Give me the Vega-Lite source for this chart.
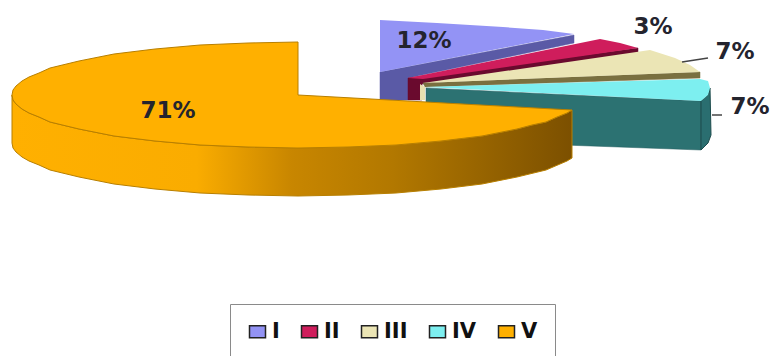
{
  "$schema": "https://vega.github.io/schema/vega-lite/v6.json",
  "width": 771,
  "height": 356,
  "padding": 0,
  "autosize": {"type": "none"},
  "background": "#ffffff",
  "config": {"view": {"stroke": null}},
  "datasets": {
    "slices": [
      {"slice": "I", "share": 0.12, "x": 126, "y": 54},
      {"slice": "II", "share": 0.03, "x": 355, "y": 68},
      {"slice": "III", "share": 0.07, "x": 437, "y": 43},
      {"slice": "IV", "share": 0.07, "x": 452, "y": -12},
      {"slice": "V", "share": 0.71, "x": -130, "y": -16}
    ],
    "outline": [
      {"part": "Iwall", "i": 1, "x": 82, "y": 23},
      {"part": "Iwall", "i": 2, "x": 276, "y": 60},
      {"part": "Iwall", "i": 3, "x": 276, "y": 52},
      {"part": "Iwall", "i": 4, "x": 110, "y": 17},
      {"part": "Iwall", "i": 5, "x": 110, "y": -5},
      {"part": "Iwall", "i": 6, "x": 82, "y": -5},

      {"part": "Itop", "slice": "I", "i": 1, "x": 82, "y": 75},
      {"part": "Itop", "slice": "I", "i": 2, "x": 139, "y": 72},
      {"part": "Itop", "slice": "I", "i": 3, "x": 205, "y": 68},
      {"part": "Itop", "slice": "I", "i": 4, "x": 245, "y": 65},
      {"part": "Itop", "slice": "I", "i": 5, "x": 276, "y": 61},
      {"part": "Itop", "slice": "I", "i": 6, "x": 82, "y": 23},

      {"part": "IIwall", "i": 1, "x": 110, "y": 17},
      {"part": "IIwall", "i": 2, "x": 340, "y": 47},
      {"part": "IIwall", "i": 3, "x": 340, "y": 42},
      {"part": "IIwall", "i": 4, "x": 124, "y": 11},
      {"part": "IIwall", "i": 5, "x": 124, "y": -5},
      {"part": "IIwall", "i": 6, "x": 110, "y": -5},

      {"part": "IItop", "slice": "II", "i": 1, "x": 110, "y": 17},
      {"part": "IItop", "slice": "II", "i": 2, "x": 302, "y": 56},
      {"part": "IItop", "slice": "II", "i": 3, "x": 322, "y": 52},
      {"part": "IItop", "slice": "II", "i": 4, "x": 340, "y": 47},
      {"part": "IItop", "slice": "II", "i": 5, "x": 125, "y": 16},

      {"part": "IIIwall", "i": 1, "x": 125, "y": 12},
      {"part": "IIIwall", "i": 2, "x": 402, "y": 23},
      {"part": "IIIwall", "i": 3, "x": 402, "y": 17},
      {"part": "IIIwall", "i": 4, "x": 127, "y": 8},

      {"part": "IIIstrip", "i": 1, "x": 122, "y": 11},
      {"part": "IIIstrip", "i": 2, "x": 127, "y": 8},
      {"part": "IIIstrip", "i": 3, "x": 127, "y": -5},
      {"part": "IIIstrip", "i": 4, "x": 122, "y": -5},

      {"part": "IIItop", "slice": "III", "i": 1, "x": 125, "y": 12},
      {"part": "IIItop", "slice": "III", "i": 2, "x": 352, "y": 45},
      {"part": "IIItop", "slice": "III", "i": 3, "x": 377, "y": 37},
      {"part": "IIItop", "slice": "III", "i": 4, "x": 392, "y": 30},
      {"part": "IIItop", "slice": "III", "i": 5, "x": 402, "y": 23},

      {"part": "IVwall", "i": 1, "x": 128, "y": 7},
      {"part": "IVwall", "i": 2, "x": 403, "y": -6},
      {"part": "IVwall", "i": 3, "x": 403, "y": -55},
      {"part": "IVwall", "i": 4, "x": 128, "y": -45},

      {"part": "IVside", "i": 1, "x": 403, "y": -6},
      {"part": "IVside", "i": 2, "x": 410, "y": 0},
      {"part": "IVside", "i": 3, "x": 412, "y": 7},
      {"part": "IVside", "i": 4, "x": 413, "y": -40},
      {"part": "IVside", "i": 5, "x": 410, "y": -48},
      {"part": "IVside", "i": 6, "x": 403, "y": -55},

      {"part": "IVtop", "slice": "IV", "i": 1, "x": 127, "y": 8},
      {"part": "IVtop", "slice": "IV", "i": 2, "x": 402, "y": 16},
      {"part": "IVtop", "slice": "IV", "i": 3, "x": 410, "y": 14},
      {"part": "IVtop", "slice": "IV", "i": 4, "x": 412, "y": 7},
      {"part": "IVtop", "slice": "IV", "i": 5, "x": 410, "y": 0},
      {"part": "IVtop", "slice": "IV", "i": 6, "x": 403, "y": -6},

      {"part": "Vwall", "i": 1, "x": 274, "y": -15},
      {"part": "Vwall", "i": 2, "x": 269, "y": -18},
      {"part": "Vwall", "i": 2.5, "x": 259, "y": -22},
      {"part": "Vwall", "i": 3, "x": 248, "y": -27},
      {"part": "Vwall", "i": 3.5, "x": 234, "y": -30},
      {"part": "Vwall", "i": 4, "x": 219, "y": -34},
      {"part": "Vwall", "i": 5, "x": 184, "y": -41},
      {"part": "Vwall", "i": 6, "x": 143, "y": -46},
      {"part": "Vwall", "i": 7, "x": 98, "y": -50},
      {"part": "Vwall", "i": 8, "x": 50, "y": -52},
      {"part": "Vwall", "i": 9, "x": 0, "y": -53},
      {"part": "Vwall", "i": 10, "x": -50, "y": -52},
      {"part": "Vwall", "i": 11, "x": -98, "y": -50},
      {"part": "Vwall", "i": 12, "x": -143, "y": -46},
      {"part": "Vwall", "i": 13, "x": -184, "y": -41},
      {"part": "Vwall", "i": 14, "x": -219, "y": -34},
      {"part": "Vwall", "i": 15, "x": -248, "y": -27},
      {"part": "Vwall", "i": 15.5, "x": -259, "y": -22},
      {"part": "Vwall", "i": 16, "x": -269, "y": -18},
      {"part": "Vwall", "i": 16.5, "x": -276, "y": -14},
      {"part": "Vwall", "i": 17, "x": -282, "y": -9},
      {"part": "Vwall", "i": 17.5, "x": -285, "y": -5},
      {"part": "Vwall", "i": 18, "x": -286, "y": 0},
      {"part": "Vwall", "i": 19, "x": -286, "y": -48},
      {"part": "Vwall", "i": 19.5, "x": -285, "y": -53},
      {"part": "Vwall", "i": 20, "x": -282, "y": -57},
      {"part": "Vwall", "i": 20.5, "x": -276, "y": -62},
      {"part": "Vwall", "i": 21, "x": -269, "y": -66},
      {"part": "Vwall", "i": 21.5, "x": -259, "y": -70},
      {"part": "Vwall", "i": 22, "x": -248, "y": -75},
      {"part": "Vwall", "i": 23, "x": -219, "y": -82},
      {"part": "Vwall", "i": 24, "x": -184, "y": -89},
      {"part": "Vwall", "i": 25, "x": -143, "y": -94},
      {"part": "Vwall", "i": 26, "x": -98, "y": -98},
      {"part": "Vwall", "i": 27, "x": -50, "y": -100},
      {"part": "Vwall", "i": 28, "x": 0, "y": -101},
      {"part": "Vwall", "i": 29, "x": 50, "y": -100},
      {"part": "Vwall", "i": 30, "x": 98, "y": -98},
      {"part": "Vwall", "i": 31, "x": 143, "y": -94},
      {"part": "Vwall", "i": 32, "x": 184, "y": -89},
      {"part": "Vwall", "i": 33, "x": 219, "y": -82},
      {"part": "Vwall", "i": 34, "x": 248, "y": -75},
      {"part": "Vwall", "i": 35, "x": 269, "y": -66},
      {"part": "Vwall", "i": 36, "x": 274, "y": -63},

      {"part": "Vtop", "slice": "V", "i": 1, "x": 0, "y": 0},
      {"part": "Vtop", "slice": "V", "i": 2, "x": 274, "y": -15},
      {"part": "Vtop", "slice": "V", "i": 3, "x": 269, "y": -18},
      {"part": "Vtop", "slice": "V", "i": 3.5, "x": 259, "y": -22},
      {"part": "Vtop", "slice": "V", "i": 4, "x": 248, "y": -27},
      {"part": "Vtop", "slice": "V", "i": 4.5, "x": 234, "y": -30},
      {"part": "Vtop", "slice": "V", "i": 5, "x": 219, "y": -34},
      {"part": "Vtop", "slice": "V", "i": 6, "x": 184, "y": -41},
      {"part": "Vtop", "slice": "V", "i": 7, "x": 143, "y": -46},
      {"part": "Vtop", "slice": "V", "i": 8, "x": 98, "y": -50},
      {"part": "Vtop", "slice": "V", "i": 9, "x": 50, "y": -52},
      {"part": "Vtop", "slice": "V", "i": 10, "x": 0, "y": -53},
      {"part": "Vtop", "slice": "V", "i": 11, "x": -50, "y": -52},
      {"part": "Vtop", "slice": "V", "i": 12, "x": -98, "y": -50},
      {"part": "Vtop", "slice": "V", "i": 13, "x": -143, "y": -46},
      {"part": "Vtop", "slice": "V", "i": 14, "x": -184, "y": -41},
      {"part": "Vtop", "slice": "V", "i": 15, "x": -219, "y": -34},
      {"part": "Vtop", "slice": "V", "i": 16, "x": -248, "y": -27},
      {"part": "Vtop", "slice": "V", "i": 16.5, "x": -259, "y": -22},
      {"part": "Vtop", "slice": "V", "i": 17, "x": -269, "y": -18},
      {"part": "Vtop", "slice": "V", "i": 17.5, "x": -276, "y": -14},
      {"part": "Vtop", "slice": "V", "i": 18, "x": -282, "y": -9},
      {"part": "Vtop", "slice": "V", "i": 18.5, "x": -285, "y": -5},
      {"part": "Vtop", "slice": "V", "i": 19, "x": -286, "y": 0},
      {"part": "Vtop", "slice": "V", "i": 19.5, "x": -285, "y": 5},
      {"part": "Vtop", "slice": "V", "i": 20, "x": -282, "y": 9},
      {"part": "Vtop", "slice": "V", "i": 20.5, "x": -276, "y": 14},
      {"part": "Vtop", "slice": "V", "i": 21, "x": -269, "y": 18},
      {"part": "Vtop", "slice": "V", "i": 21.5, "x": -259, "y": 22},
      {"part": "Vtop", "slice": "V", "i": 22, "x": -248, "y": 27},
      {"part": "Vtop", "slice": "V", "i": 23, "x": -219, "y": 34},
      {"part": "Vtop", "slice": "V", "i": 24, "x": -184, "y": 41},
      {"part": "Vtop", "slice": "V", "i": 25, "x": -143, "y": 46},
      {"part": "Vtop", "slice": "V", "i": 26, "x": -98, "y": 50},
      {"part": "Vtop", "slice": "V", "i": 27, "x": -50, "y": 52},
      {"part": "Vtop", "slice": "V", "i": 28, "x": 0, "y": 53},

      {"part": "leaderIII", "i": 1, "x": 384, "y": 33},
      {"part": "leaderIII", "i": 2, "x": 410, "y": 37},
      {"part": "leaderIV", "i": 1, "x": 414, "y": -20},
      {"part": "leaderIV", "i": 2, "x": 424, "y": -20}
    ]
  },
  "data": {"name": "outline"},
  "encoding": {
    "x": {"field": "x", "type": "quantitative", "axis": null, "scale": {"domain": [-298, 473]}},
    "y": {"field": "y", "type": "quantitative", "axis": null, "scale": {"domain": [-261, 95]}},
    "order": {"field": "i", "type": "quantitative"}
  },
  "layer": [
    {"transform": [{"filter": "datum.part === 'Iwall'"}],
     "mark": {"type": "line", "interpolate": "linear-closed", "fill": "#5A5AA6", "stroke": "#5A5AA6", "strokeWidth": 0.5}},
    {"transform": [{"filter": "datum.part === 'Itop'"}],
     "mark": {"type": "line", "interpolate": "linear-closed", "stroke": "#222222", "strokeWidth": 0},
     "encoding": {"fill": {"field": "slice", "type": "nominal",
       "scale": {"domain": ["I", "II", "III", "IV", "V"], "range": ["#9393F5", "#CF1D5C", "#EBE5B5", "#7DEFF0", "#FFB000"]},
       "legend": {
         "orient": "none", "legendX": 230, "legendY": 304, "direction": "horizontal", "columns": 5,
         "title": null, "padding": 17, "strokeColor": "#8a8a8a", "fillColor": "#ffffff",
         "symbolType": "M-1,-0.75H1V0.75H-1Z", "symbolSize": 256,
         "labelFont": "DejaVu Sans", "labelFontWeight": "bold", "labelFontSize": 21, "labelColor": "#111111",
         "columnPadding": 18, "labelOffset": 4,
         "encode": {"symbols": {"update": {"stroke": {"value": "#222222"}, "strokeWidth": {"value": 1.5}}}}
       }}}},
    {"transform": [{"filter": "datum.part === 'IIwall'"}],
     "mark": {"type": "line", "interpolate": "linear-closed", "fill": "#6A0A2E", "stroke": "#6A0A2E", "strokeWidth": 0.5}},
    {"transform": [{"filter": "datum.part === 'IItop'"}],
     "mark": {"type": "line", "interpolate": "linear-closed", "stroke": "#222222", "strokeWidth": 0},
     "encoding": {"fill": {"field": "slice", "type": "nominal"}}},
    {"transform": [{"filter": "datum.part === 'IIIwall'"}],
     "mark": {"type": "line", "interpolate": "linear-closed", "fill": "#7A7040", "stroke": "#7A7040", "strokeWidth": 0.5}},
    {"transform": [{"filter": "datum.part === 'IIIstrip'"}],
     "mark": {"type": "line", "interpolate": "linear-closed", "fill": "#E8E0B0", "strokeWidth": 0}},
    {"transform": [{"filter": "datum.part === 'IIItop'"}],
     "mark": {"type": "line", "interpolate": "linear-closed", "stroke": "#222222", "strokeWidth": 0},
     "encoding": {"fill": {"field": "slice", "type": "nominal"}}},
    {"transform": [{"filter": "datum.part === 'IVwall'"}],
     "mark": {"type": "line", "interpolate": "linear-closed", "fill": "#2C7272", "stroke": "#245F60", "strokeWidth": 0.5}},
    {"transform": [{"filter": "datum.part === 'IVside'"}],
     "mark": {"type": "line", "interpolate": "linear-closed", "fill": "#2A6E70", "stroke": "#1D4B4C", "strokeWidth": 1}},
    {"transform": [{"filter": "datum.part === 'IVtop'"}],
     "mark": {"type": "line", "interpolate": "linear-closed", "stroke": "#222222", "strokeWidth": 0},
     "encoding": {"fill": {"field": "slice", "type": "nominal"}}},
    {"transform": [{"filter": "datum.part === 'Vwall'"}],
     "mark": {"type": "line", "interpolate": "linear-closed", "stroke": "#B87F00", "strokeWidth": 1,
       "fill": {"gradient": "linear", "x1": 0, "x2": 1, "y1": 0, "y2": 0, "stops": [
         {"offset": 0, "color": "#FFB000"},
         {"offset": 0.33, "color": "#FAAC00"},
         {"offset": 0.5, "color": "#C88600"},
         {"offset": 0.68, "color": "#B27800"},
         {"offset": 1, "color": "#7C5000"}
       ]}}},
    {"transform": [{"filter": "datum.part === 'Vtop'"}],
     "mark": {"type": "line", "interpolate": "linear-closed", "stroke": "#222222", "strokeWidth": 0},
     "encoding": {"fill": {"field": "slice", "type": "nominal"}}},
    {"transform": [{"filter": "datum.part === 'Vtop'"}],
     "mark": {"type": "line", "interpolate": "linear-closed", "stroke": "#B87F00", "strokeWidth": 1}},
    {"transform": [{"filter": "datum.part === 'leaderIII' || datum.part === 'leaderIV'"}],
     "mark": {"type": "line", "stroke": "#444444", "strokeWidth": 1.5},
     "encoding": {"detail": {"field": "part"}}},
    {"data": {"name": "slices"},
     "mark": {"type": "text", "font": "DejaVu Sans", "fontWeight": "bold", "fontSize": 23, "fill": "#24242e"},
     "encoding": {
       "text": {"field": "share", "type": "quantitative", "format": ".0%"},
       "order": null
     }}
  ]
}
